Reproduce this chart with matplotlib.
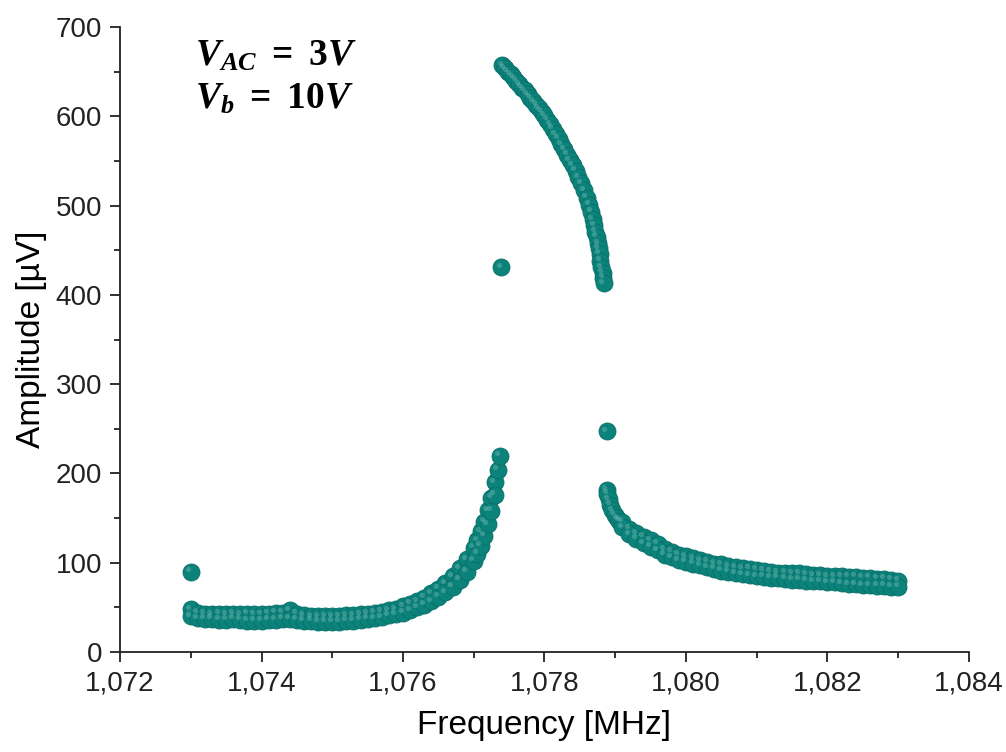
import numpy as np
import matplotlib
matplotlib.use('Agg')
import matplotlib.pyplot as plt
from matplotlib.ticker import MultipleLocator, FuncFormatter
from matplotlib.transforms import offset_copy

# === Data (frequency in MHz, amplitude in uV) ===
# baseline + rising branch, two values per frequency (band)
freq_low = [1.0730, 1.0731, 1.0732, 1.0733, 1.0734, 1.0735, 1.0736, 1.0737, 1.0738, 1.0739,
            1.0740, 1.0741, 1.0742, 1.0743, 1.0744, 1.0745, 1.0746, 1.0747, 1.0748, 1.0749,
            1.0750, 1.0751, 1.0752, 1.0753, 1.0754, 1.0755, 1.0756, 1.0757, 1.0758, 1.0759,
            1.0760, 1.0761, 1.0762, 1.0763, 1.0764, 1.0765, 1.0766, 1.0767, 1.0768, 1.0769,
            1.0770, 1.07705, 1.0771, 1.07715, 1.0772, 1.07725, 1.0773]
amp_low_a = [48, 44, 43, 42, 43, 42, 43, 42, 43, 42,
             42, 43, 44, 44, 47, 43, 41, 40, 40, 40,
             40, 40, 41, 41, 42, 43, 44, 45, 47, 48,
             51, 54, 57, 61, 66, 71, 77, 85, 94, 104,
             117, 125, 135, 146, 159, 173, 190]
amp_low_b = [40, 38, 37, 37, 36, 36, 37, 36, 35, 35,
             35, 36, 36, 37, 37, 36, 35, 35, 34, 34,
             34, 34, 35, 35, 36, 37, 38, 39, 41, 42,
             44, 47, 50, 53, 57, 62, 67, 73, 81, 90,
             102, 110, 119, 130, 143, 158, 176]
freq_rise_top = [1.07734, 1.07737]
amp_rise_top = [204, 220]

# upper (jumped) branch
freq_up = [1.07740, 1.07744, 1.07748, 1.07752, 1.07756, 1.07760, 1.07764, 1.07768, 1.07772, 1.07776,
           1.07780, 1.07784, 1.07788, 1.07792, 1.07796, 1.07800, 1.07804, 1.07808, 1.07812, 1.07816,
           1.07820, 1.07824, 1.07828, 1.07832, 1.07836, 1.07840, 1.07844, 1.07848, 1.07852, 1.07856,
           1.07860, 1.07863, 1.07866, 1.07868, 1.07870, 1.07872, 1.07874, 1.07876, 1.07877, 1.07878,
           1.07879, 1.07880, 1.07882, 1.07883, 1.07884]
amp_up = [657, 654, 650, 647, 644, 640, 636, 632, 629, 625,
          621, 617, 613, 609, 605, 601, 596, 591, 586, 580,
          575, 569, 563, 557, 551, 545, 539, 532, 525, 517,
          509, 501, 493, 485, 478, 471, 465, 458, 452, 446,
          438, 431, 425, 419, 413]

# right tail after the jump down
freq_fall = [1.07888, 1.07889, 1.07891, 1.07893, 1.07896, 1.07899, 1.07903, 1.07906]
amp_fall = [182, 177, 171, 165, 159, 154, 150, 147]
freq_tail = [1.0791, 1.0792, 1.0793, 1.0794, 1.0795, 1.0796, 1.0797, 1.0798, 1.0799, 1.0800,
             1.0801, 1.0802, 1.0803, 1.0804, 1.0805, 1.0806, 1.0807, 1.0808, 1.0809, 1.0810,
             1.0811, 1.0812, 1.0813, 1.0814, 1.0815, 1.0816, 1.0817, 1.0818, 1.0819, 1.0820,
             1.0821, 1.0822, 1.0823, 1.0824, 1.0825, 1.0826, 1.0827, 1.0828, 1.0829, 1.0830]
amp_tail_a = [146, 138, 133, 129, 125, 121, 115, 112, 109, 107,
              105, 103, 101, 99, 98, 96, 95, 94, 93, 92,
              91, 90, 89, 89, 88, 88, 87, 86, 86, 85,
              85, 85, 84, 84, 83, 83, 82, 82, 81, 80]
amp_tail_b = [140, 132, 127, 122, 118, 114, 109, 106, 103, 101,
              99, 97, 95, 93, 91, 90, 88, 87, 86, 85,
              84, 83, 83, 82, 81, 81, 80, 79, 79, 78,
              78, 77, 76, 76, 75, 75, 74, 74, 73, 73]

# isolated points
freq_out = [1.07300, 1.07739, 1.07888]
amp_out = [90, 431, 247]

# === Collect everything ===
freq = np.concatenate([freq_low, freq_low, freq_rise_top, freq_up,
                       freq_fall, freq_tail, freq_tail, freq_out])
amp = np.concatenate([amp_low_a, amp_low_b, amp_rise_top, amp_up,
                      amp_fall, amp_tail_a, amp_tail_b, amp_out])

# === Plot ===
plt.rcParams['font.family'] = ['Liberation Sans', 'DejaVu Sans']
plt.rcParams['mathtext.fontset'] = 'custom'
plt.rcParams['mathtext.it'] = 'Liberation Serif:italic:bold'
plt.rcParams['mathtext.rm'] = 'Liberation Serif:bold'
plt.rcParams['mathtext.bf'] = 'Liberation Serif:bold'

fig = plt.figure(figsize=(10.06, 7.52), dpi=100)
ax = fig.add_axes([0.1193, 0.133, 0.8439, 0.831])

teal = '#0b827a'
ax.scatter(freq, amp, s=150, color=teal, edgecolors='#087068', linewidths=0.6, zorder=3)
# soft highlight to mimic the shaded spheres
hl = offset_copy(ax.transData, fig=fig, x=-1.8, y=1.8, units='points')
ax.scatter(freq, amp, s=14, color='#8cc9c2', alpha=0.35, linewidths=0, transform=hl, zorder=4)

ax.set_xlim(1.072, 1.084)
ax.set_ylim(0, 700)
ax.xaxis.set_major_locator(MultipleLocator(0.002))
ax.xaxis.set_minor_locator(MultipleLocator(0.001))
ax.yaxis.set_major_locator(MultipleLocator(100))
ax.yaxis.set_minor_locator(MultipleLocator(50))
ax.xaxis.set_major_formatter(FuncFormatter(lambda v, p: f'{v:.3f}'.replace('.', ',')))

for s in ['top', 'right']:
    ax.spines[s].set_visible(False)
for s in ['left', 'bottom']:
    ax.spines[s].set_linewidth(1.3)
    ax.spines[s].set_color('#222222')

ax.tick_params(which='major', direction='out', length=7, width=1.3, labelsize=20,
               colors='#222222', pad=6)
ax.tick_params(which='minor', direction='out', length=4, width=1.3, colors='#222222')

ax.set_xlabel('Frequency [MHz]', fontsize=24, labelpad=10)
ax.set_ylabel('Amplitude [µV]', fontsize=24, labelpad=6)

ax.text(0.088, 0.955, r'$V_{AC}\ =\ 3V$', transform=ax.transAxes,
        fontsize=27, va='center', ha='left')
ax.text(0.088, 0.885, r'$V_{b}\ =\ 10V$', transform=ax.transAxes,
        fontsize=27, va='center', ha='left')

fig.savefig('out.png', dpi=100)
